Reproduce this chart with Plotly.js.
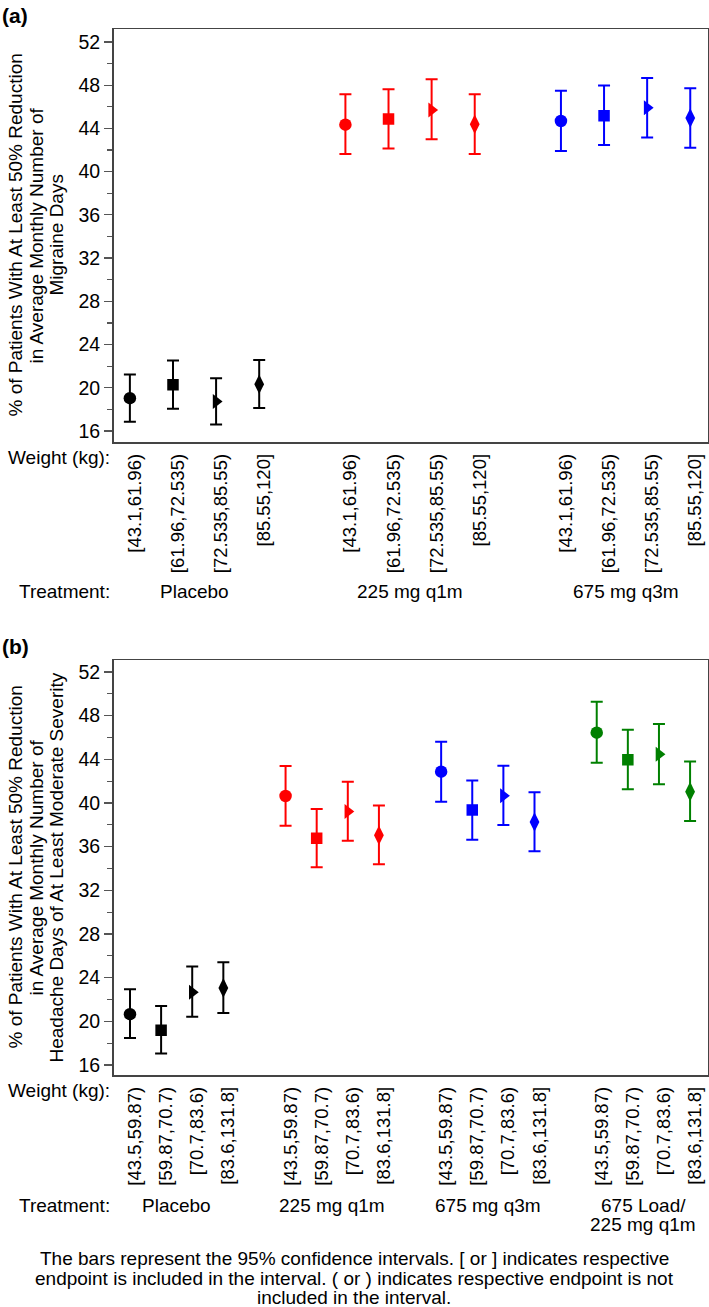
<!DOCTYPE html>
<html>
<head>
<meta charset="utf-8">
<script src="https://cdn.plot.ly/plotly-3.0.1.min.js"></script>
<style>html,body{margin:0;padding:0;background:#fff;}#chart{width:709px;height:1307px;}</style>
</head>
<body>
<div id="chart"></div>
<script>
// ---------- data ----------
const treatmentsA = ["Placebo", "225 mg q1m", "675 mg q3m"];
const weightsA = ["[43.1,61.96)", "[61.96,72.535)", "[72.535,85.55)", "[85.55,120]"];
const estA  = [[19.04, 20.27, 18.72, 20.33], [44.35, 44.88, 45.71, 44.39], [44.69, 45.18, 45.92, 44.97]];
const lowA  = [[16.85, 18.05, 16.60, 18.12], [41.64, 42.13, 43.00, 41.64], [41.92, 42.47, 43.15, 42.22]];
const highA = [[21.22, 22.52, 20.89, 22.56], [47.16, 47.62, 48.55, 47.16], [47.49, 47.96, 48.67, 47.72]];

const treatmentsB = ["Placebo", "225 mg q1m", "675 mg q3m", "675 Load/", "225 mg q1m"];
const weightsB = ["[43.5,59.87)", "[59.87,70.7)", "[70.7,83.6)", "[83.6,131.8]"];
const estB  = [[20.65, 19.19, 22.67, 23.06], [40.64, 36.77, 39.21, 37.05], [42.87, 39.36, 40.67, 38.26], [46.44, 43.97, 44.46, 41.04]];
const lowB  = [[18.46, 17.05, 20.41, 20.75], [37.92, 34.12, 36.55, 34.39], [40.12, 36.64, 37.99, 35.58], [43.69, 41.26, 41.72, 38.36]];
const highB = [[22.94, 21.41, 25.01, 25.42], [43.39, 39.45, 41.95, 39.76], [45.62, 42.05, 43.42, 40.98], [49.28, 46.72, 47.24, 43.79]];

const yTickVals = [16, 20, 24, 28, 32, 36, 40, 44, 48, 52];
const yTitleA = ["% of Patients With At Least 50% Reduction", "in Average Monthly Number of", "Migraine Days"];
const yTitleB = ["% of Patients With At Least 50% Reduction", "in Average Monthly Number of", "Headache Days of At Least Moderate Severity"];
const footnote = [
  "The bars represent the 95% confidence intervals. [ or ] indicates respective",
  "endpoint is included in the interval. ( or ) indicates respective endpoint is not",
  "included in the interval."
];

// ---------- styles ----------
const colorsA = ["#000000", "#ff0000", "#0000ff"];
const colorsB = ["#000000", "#ff0000", "#0000ff", "#008000"];
const symbols = ["circle", "square", "triangle-right", "diamond-tall"];
const symSizes = [12.5, 11.5, 13, 14];
const FONT = "Arial, 'Liberation Sans', Helvetica, sans-serif";
const W = 709, H = 1307;

function slotX(g, i) { return g * 5 + i; }

const traces = [];
function addPanel(est, low, high, colors, xa, ya) {
  est.forEach((row, g) => {
    traces.push({
      type: "scatter", mode: "markers",
      x: row.map((_, i) => slotX(g, i)),
      y: row,
      xaxis: xa, yaxis: ya,
      marker: { color: colors[g], symbol: symbols, size: symSizes, opacity: 1, line: { width: 0 } },
      error_y: {
        type: "data", symmetric: false,
        array: row.map((v, i) => high[g][i] - v),
        arrayminus: row.map((v, i) => v - low[g][i]),
        color: colors[g], thickness: 2, width: 6
      },
      hoverinfo: "x+y"
    });
  });
}
addPanel(estA, lowA, highA, colorsA, "x", "y");
addPanel(estB, lowB, highB, colorsB, "x2", "y2");

function xTicks(nGroups, weights) {
  const vals = [], text = [];
  for (let g = 0; g < nGroups; g++) weights.forEach((w, i) => { vals.push(slotX(g, i)); text.push(w); });
  return { vals, text };
}
const tA = xTicks(3, weightsA), tB = xTicks(4, weightsB);

const px = v => v / W, py = v => 1 - v / H;

const yAxisCommon = {
  tickvals: yTickVals, ticks: "outside", ticklen: 8, tickwidth: 1.2, tickcolor: "#555",
  minor: { dtick: 2, ticks: "outside", ticklen: 5, tickwidth: 1.2, tickcolor: "#555", tick0: 0 },
  showgrid: false, zeroline: false, showline: true, mirror: true, linecolor: "#444", linewidth: 1.5,
  tickfont: { family: FONT, size: 19.5, color: "#000" }, fixedrange: true
};
const xAxisCommon = {
  ticks: "", tickangle: -90, showgrid: false, zeroline: false, showline: true, mirror: true,
  linecolor: "#444", linewidth: 1.5, tickfont: { family: FONT, size: 18.5, color: "#000" },
  ticklabelstandoff: 3, ticklabelshift: 5, fixedrange: true
};

const layout = {
  width: W, height: H, margin: { l: 0, r: 0, t: 0, b: 0 },
  paper_bgcolor: "#fff", plot_bgcolor: "#fff", showlegend: false,
  font: { family: FONT, size: 19, color: "#000" },
  xaxis: Object.assign({}, xAxisCommon, { domain: [px(113.5), px(707.5)], range: [-0.38, 13.4], tickvals: tA.vals, ticktext: tA.text, anchor: "y" }),
  yaxis: Object.assign({}, yAxisCommon, { domain: [py(442), py(29)], range: [14.98, 53.2], anchor: "x" }),
  xaxis2: Object.assign({}, xAxisCommon, { domain: [px(113.5), px(707.5)], range: [-0.53, 18.56], tickvals: tB.vals, ticktext: tB.text, anchor: "y2" }),
  yaxis2: Object.assign({}, yAxisCommon, { domain: [py(1075), py(660)], range: [15.08, 53.1], anchor: "x2" }),
  annotations: []
};

const ann = layout.annotations;
function txt(text, x, y, opts) {
  ann.push(Object.assign({ text, x, y, xref: "paper", yref: "paper", showarrow: false,
    xanchor: "center", yanchor: "middle", font: { family: FONT, size: 19, color: "#000" } }, opts || {}));
}
// panel labels
txt("<b>(a)</b>", px(0), py(15), { xanchor: "left", font: { family: FONT, size: 21, color: "#000" } });
txt("<b>(b)</b>", px(0), py(646), { xanchor: "left", font: { family: FONT, size: 21, color: "#000" } });
// y titles
const titleX = [15, 36, 56];
yTitleA.forEach((t, k) => txt(t, px(titleX[k]), py(235.5), { textangle: -90 }));
yTitleB.forEach((t, k) => txt(t, px(titleX[k]), py(867.5), { textangle: -90 }));
// row headers
txt("Weight (kg):", px(112), py(458), { xanchor: "right" });
txt("Treatment:", px(112), py(592), { xanchor: "right" });
txt("Weight (kg):", px(112), py(1090), { xanchor: "right" });
txt("Treatment:", px(112), py(1205), { xanchor: "right" });
// treatment group labels
function groupCenter(g, n) { return (slotX(g, 0) + slotX(g, n - 1)) / 2; }
treatmentsA.forEach((t, g) => ann.push({ text: t, x: groupCenter(g, weightsA.length), xref: "x", y: py(592), yref: "paper",
  showarrow: false, xanchor: "center", yanchor: "middle", font: { family: FONT, size: 19, color: "#000" } }));
const groupIdxB = [0, 1, 2, 3, 3];
const rowYB = [1205, 1205, 1205, 1205, 1224];
treatmentsB.forEach((t, k) => ann.push({ text: t, x: groupCenter(groupIdxB[k], weightsB.length), xref: "x2", y: py(rowYB[k]), yref: "paper",
  showarrow: false, xanchor: "center", yanchor: "middle", font: { family: FONT, size: 19, color: "#000" } }));
// footnote
const footY = [1258, 1278, 1297];
footnote.forEach((t, k) => txt(t, px(354), py(footY[k])));

Plotly.newPlot("chart", traces, layout, { displayModeBar: false, staticPlot: true });
</script>
</body>
</html>
